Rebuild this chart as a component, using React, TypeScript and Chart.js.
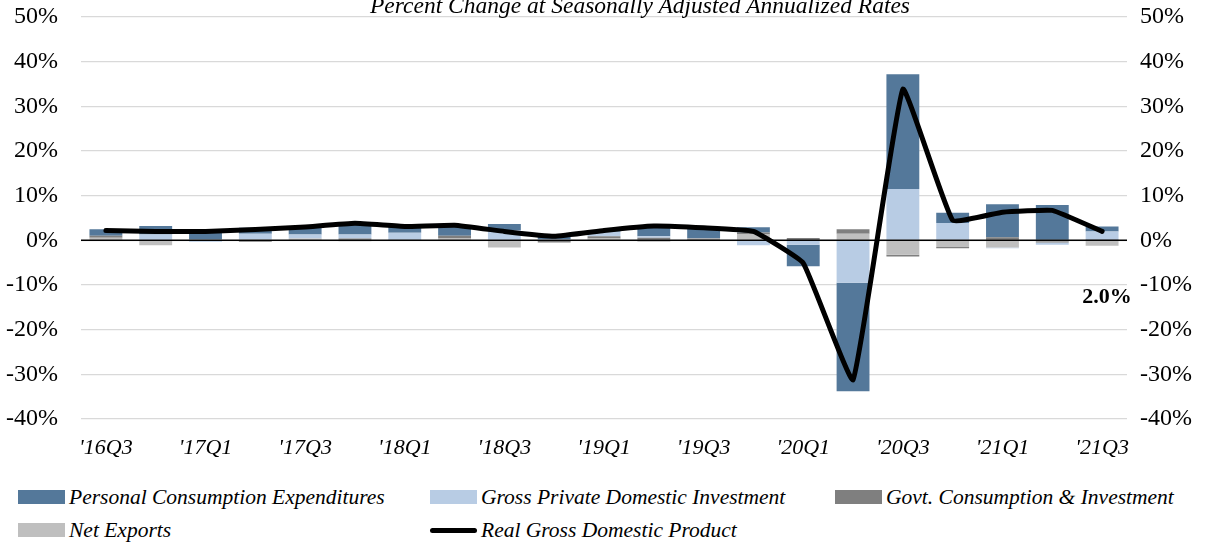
import React, { useEffect, useRef } from "react";
import { Chart, registerables } from "chart.js";

Chart.register(...registerables);

const quarters = [
  "'16Q3", "'16Q4", "'17Q1", "'17Q2", "'17Q3", "'17Q4", "'18Q1", "'18Q2",
  "'18Q3", "'18Q4", "'19Q1", "'19Q2", "'19Q3", "'19Q4", "'20Q1", "'20Q2",
  "'20Q3", "'20Q4", "'21Q1", "'21Q2", "'21Q3",
];

const pce = [1.5, 1.9, 2.0, 1.3, 1.7, 2.6, 1.4, 2.4, 1.35, 1.0, 0.3, 2.4, 2.1, 1.2, -4.8, -24.3, 25.7, 2.3, 7.4, 7.9, 1.1];
const gpdi = [0, 1.3, -0.3, 1.3, 0.9, 0.9, 1.6, 0, 2.3, 0.3, 1.0, 0.3, 0.1, -1.1, -1.0, -9.5, 11.5, 3.9, -0.2, -0.5, 1.9];
const govt = [0.4, 0, 0, -0.3, 0, 0.4, 0, 0.6, 0, -0.5, 0.5, 0.6, 0.4, 0.45, 0.4, 1.0, -0.4, -0.3, 0.7, -0.3, 0.1];
const netExports = [0.6, -1.1, 0.2, 0.2, 0.4, -0.2, 0.1, 0.4, -1.6, 0, 0.4, -0.3, 0, 1.3, 0.1, 1.5, -3.2, -1.5, -1.6, -0.2, -1.2];
const realGdp = [2.2, 2.0, 2.0, 2.4, 3.0, 3.8, 3.1, 3.4, 2.0, 0.9, 2.2, 3.2, 2.8, 2.0, -5.1, -31.2, 33.8, 4.5, 6.3, 6.7, 2.0];

const yMin = -40;
const yMax = 50;
const yStep = 10;

const titleText = "Percent Change at Seasonally Adjusted Annualized Rates";

const C_PCE = "#54789a";
const C_GPDI = "#b8cce4";
const C_GOVT = "#7f7f7f";
const C_NX = "#bfbfbf";
const C_GDP = "#000000";

const FONT = '"Liberation Serif", "DejaVu Serif", serif';

const legendItems = [
  { label: "Personal Consumption Expenditures", color: C_PCE, kind: "box" },
  { label: "Gross Private Domestic Investment", color: C_GPDI, kind: "box" },
  { label: "Govt. Consumption & Investment", color: C_GOVT, kind: "box" },
  { label: "Net Exports", color: C_NX, kind: "box" },
  { label: "Real Gross Domestic Product", color: C_GDP, kind: "line" },
];

export default function App() {
  const ref = useRef<HTMLCanvasElement>(null);

  useEffect(() => {
    document.body.style.margin = "0";
    const zeroLine = {
      id: "zeroLine",
      beforeDatasetDraw(chart: any, args: any) {
        if (args.meta.type !== "line") return;
        const y = chart.scales.y.getPixelForValue(0);
        const { left, right } = chart.chartArea;
        const ctx = chart.ctx;
        ctx.save();
        ctx.strokeStyle = "#000";
        ctx.lineWidth = 1.5;
        ctx.beginPath();
        ctx.moveTo(left, y);
        ctx.lineTo(right, y);
        ctx.stroke();
        ctx.restore();
      },
      afterDatasetsDraw(chart: any) {
        const meta = chart.getDatasetMeta(4);
        const pt = meta.data[meta.data.length - 1];
        const ctx = chart.ctx;
        ctx.save();
        ctx.font = `bold 22px ${FONT}`;
        ctx.fillStyle = "#000";
        ctx.textAlign = "center";
        ctx.textBaseline = "middle";
        ctx.fillText(`${realGdp[realGdp.length - 1].toFixed(1)}%`, pt.x + 5, pt.y + 66);
        ctx.restore();
      },
    };

    const barCommon = {
      type: "bar" as const,
      yAxisID: "y",
      stack: "c",
      order: 2,
      barPercentage: 1,
      categoryPercentage: 0.66,
      borderWidth: 0,
    };

    const noPad = (s: any) => {
      s.paddingTop = 0;
      s.paddingBottom = 0;
    };

    const chart = new Chart(ref.current!, {
      type: "bar",
      data: {
        labels: quarters,
        datasets: [
          { ...barCommon, label: "Net Exports", data: netExports, backgroundColor: C_NX },
          { ...barCommon, label: "Govt. Consumption & Investment", data: govt, backgroundColor: C_GOVT },
          { ...barCommon, label: "Gross Private Domestic Investment", data: gpdi, backgroundColor: C_GPDI },
          { ...barCommon, label: "Personal Consumption Expenditures", data: pce, backgroundColor: C_PCE },
          {
            type: "line",
            label: "Real Gross Domestic Product",
            data: realGdp,
            yAxisID: "y2",
            order: 1,
            borderColor: C_GDP,
            borderWidth: 5,
            pointRadius: 0,
            tension: 0.1,
            borderCapStyle: "round",
            borderJoinStyle: "round",
            fill: false,
          } as any,
        ],
      },
      options: {
        responsive: false,
        animation: false,
        layout: { padding: { top: 17, left: 0, right: 0, bottom: 0 } },
        plugins: {
          legend: { display: false },
          tooltip: { enabled: false },
          title: { display: false },
        },
        scales: {
          x: {
            stacked: true,
            grid: { display: false },
            border: { display: false },
            ticks: {
              autoSkip: false,
              maxRotation: 0,
              padding: 8,
              color: "#000",
              font: { family: FONT, size: 22, style: "italic" },
              callback: (_v: any, i: number) => (i % 2 === 0 ? quarters[i] : ""),
            },
            afterFit: (s: any) => {
              s.height = 51;
              s.paddingLeft = 0;
              s.paddingRight = 0;
            },
          },
          y: {
            stacked: true,
            position: "left",
            min: yMin,
            max: yMax,
            border: { display: false },
            grid: { color: "#d9d9d9", lineWidth: 1.2, drawTicks: false },
            ticks: {
              stepSize: yStep,
              padding: 23,
              color: "#000",
              font: { family: FONT, size: 24 },
              callback: (v: any) => `${v}%`,
            },
            afterFit: (s: any) => {
              s.width = 81;
              noPad(s);
            },
          },
          y2: {
            position: "right",
            min: yMin,
            max: yMax,
            border: { display: false },
            grid: { display: false, drawTicks: false },
            ticks: {
              stepSize: yStep,
              padding: 13,
              color: "#000",
              font: { family: FONT, size: 24 },
              callback: (v: any) => `${v}%`,
            },
            afterFit: (s: any) => {
              s.width = 81;
              noPad(s);
            },
          },
        },
      } as any,
      plugins: [zeroLine],
    });
    return () => chart.destroy();
  }, []);

  const colX = [18, 430, 835];
  const rowY = [497, 530];

  return (
    <div style={{ position: "relative", width: 1208, height: 545, overflow: "hidden", fontFamily: FONT, background: "#fff" }}>
      <canvas ref={ref} width={1208} height={470} style={{ position: "absolute", left: 0, top: 0 }} />
      <div
        style={{
          position: "absolute",
          left: 640,
          top: -7,
          transform: "translateX(-50%)",
          whiteSpace: "nowrap",
          fontStyle: "italic",
          fontSize: 23.5,
          lineHeight: "24px",
          color: "#000",
        }}
      >
        {titleText}
      </div>
      {legendItems.map((it, i) => {
        const x = colX[i % 3];
        const y = rowY[Math.floor(i / 3)];
        return (
          <div
            key={it.label}
            style={{ position: "absolute", left: x, top: y - 12, height: 24, display: "flex", alignItems: "center", whiteSpace: "nowrap" }}
          >
            {it.kind === "box" ? (
              <span style={{ display: "inline-block", width: 47, height: 14, background: it.color }} />
            ) : (
              <span style={{ display: "inline-block", width: 47, height: 5, borderRadius: 3, background: it.color }} />
            )}
            <span style={{ marginLeft: 4, fontStyle: "italic", fontSize: 21.5, color: "#000" }}>{it.label}</span>
          </div>
        );
      })}
    </div>
  );
}
